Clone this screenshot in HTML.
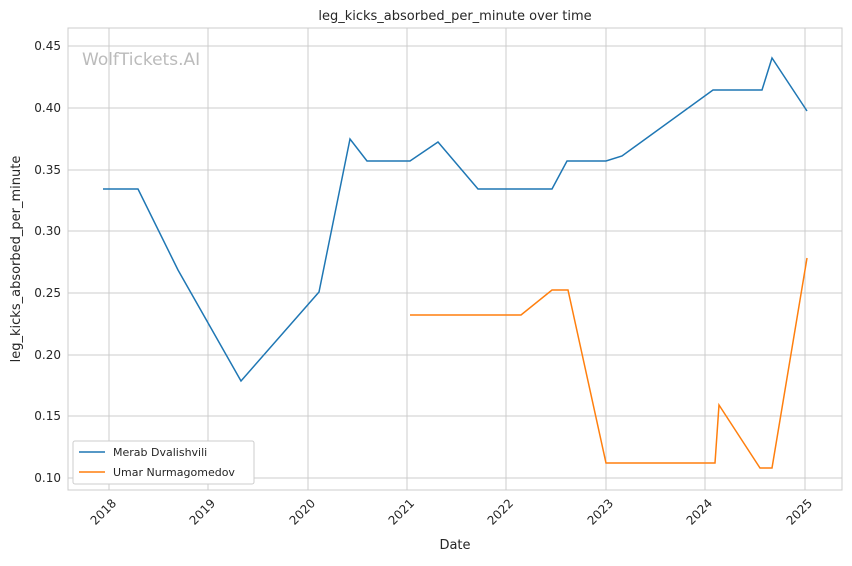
<!DOCTYPE html>
<html><head><meta charset="utf-8"><style>
body{margin:0;background:#fff;}
svg text{font-family:"DejaVu Sans","Liberation Sans",sans-serif;fill:#262626;}
</style></head><body>
<svg width="852" height="561" xmlns="http://www.w3.org/2000/svg">
<rect width="852" height="561" fill="#fff"/>
<rect x="68" y="28" width="774" height="462" fill="#fff" stroke="#ccc" stroke-width="1"/>
<g stroke="#ccc" stroke-width="1">
<line x1="68" x2="842" y1="46" y2="46"/><line x1="68" x2="842" y1="108" y2="108"/>
<line x1="68" x2="842" y1="170" y2="170"/><line x1="68" x2="842" y1="231" y2="231"/>
<line x1="68" x2="842" y1="293" y2="293"/><line x1="68" x2="842" y1="355" y2="355"/>
<line x1="68" x2="842" y1="416" y2="416"/><line x1="68" x2="842" y1="478" y2="478"/>
<line x1="109" x2="109" y1="28" y2="490"/><line x1="208" x2="208" y1="28" y2="490"/>
<line x1="308" x2="308" y1="28" y2="490"/><line x1="407" x2="407" y1="28" y2="490"/>
<line x1="506" x2="506" y1="28" y2="490"/><line x1="606" x2="606" y1="28" y2="490"/>
<line x1="705" x2="705" y1="28" y2="490"/><line x1="805" x2="805" y1="28" y2="490"/>
</g>
<g font-size="12" text-anchor="end">
<text x="61" y="50">0.45</text><text x="61" y="112">0.40</text><text x="61" y="174">0.35</text>
<text x="61" y="235">0.30</text><text x="61" y="297">0.25</text><text x="61" y="359">0.20</text>
<text x="61" y="420">0.15</text><text x="61" y="482">0.10</text>
</g>
<g font-size="12" text-anchor="end">
<text transform="translate(117,504) rotate(-45)">2018</text>
<text transform="translate(216,504) rotate(-45)">2019</text>
<text transform="translate(316,504) rotate(-45)">2020</text>
<text transform="translate(415,504) rotate(-45)">2021</text>
<text transform="translate(514,504) rotate(-45)">2022</text>
<text transform="translate(614,504) rotate(-45)">2023</text>
<text transform="translate(713,504) rotate(-45)">2024</text>
<text transform="translate(813,504) rotate(-45)">2025</text>
</g>
<text x="455" y="20" font-size="13" text-anchor="middle">leg_kicks_absorbed_per_minute over time</text>
<text x="455" y="549" font-size="13" text-anchor="middle">Date</text>
<text transform="translate(20,259) rotate(-90)" font-size="13" text-anchor="middle">leg_kicks_absorbed_per_minute</text>
<text x="82" y="65" font-size="17" style="fill:#bbb">WolfTickets.AI</text>
<polyline fill="none" stroke="#1f77b4" stroke-width="1.5" points="103,189 138,189 178,270 241,381 319,292 350,139 367,161 410,161 438,142 478,189 552,189 567,161 606,161 622,156 713,90 762,90 772,58 807,111"/>
<polyline fill="none" stroke="#ff7f0e" stroke-width="1.5" points="410,315 521,315 552,290 568,290 606,463 715,463 719,405 760,468 772,468 807,258"/>
<rect x="73" y="441" width="181" height="43" fill="#fff" stroke="#ccc" rx="2"/>
<line x1="79" x2="105" y1="452" y2="452" stroke="#1f77b4" stroke-width="1.5"/>
<line x1="79" x2="105" y1="472" y2="472" stroke="#ff7f0e" stroke-width="1.5"/>
<text x="113" y="456" font-size="11">Merab Dvalishvili</text>
<text x="113" y="476" font-size="11">Umar Nurmagomedov</text>
</svg>
</body></html>
